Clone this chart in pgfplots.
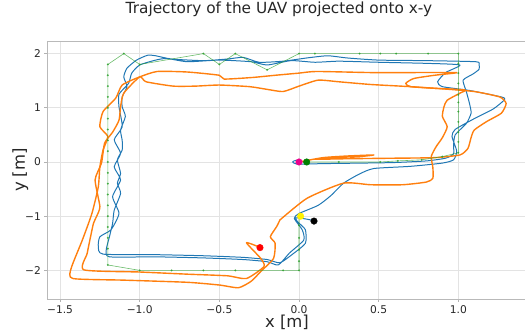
\documentclass[border=0pt]{standalone}
\usepackage{fontspec}
\setmainfont{DejaVu Sans}
\usepackage{pgfplots}
\pgfplotsset{compat=1.18}
\definecolor{mblue}{RGB}{31,119,180}
\definecolor{morange}{RGB}{255,127,14}
\definecolor{mgreen}{RGB}{44,160,44}
\definecolor{dgreen}{RGB}{0,128,0}
\begin{document}
\begin{tikzpicture}
\path[use as bounding box] (0,0) rectangle (525bp,335bp);
\begin{axis}[
  at={(47.3bp,36bp)}, anchor=south west,
  scale only axis, width=479.7bp, height=257.3bp,
  xmin=-1.580, xmax=1.431, ymin=-2.528, ymax=2.2196,
  xtick={-1.5,-1,-0.5,0,0.5,1},
  xticklabels={−1.5,−1.0,−0.5,0.0,0.5,1.0},
  ytick={-2,-1,0,1,2},
  yticklabels={−2,−1,0,1,2},
  grid=major,
  grid style={gray!22, line width=0.7pt},
  axis line style={gray!55, line width=0.8pt},
  tick align=outside, major tick length=3pt,
  tick style={gray!60, line width=0.7pt},
  xtick pos=bottom, ytick pos=left,
  ticklabel style={font=\fontsize{10.7}{12}\selectfont, text=black!85},
  title={Trajectory of the UAV projected onto x-y},
  title style={at={(axis description cs:0.483,1.0863)}, anchor=base, font=\fontsize{15.4}{18}\selectfont, text=black!85},
  xlabel={x [m]},
  xlabel style={at={(axis description cs:0.4997,-0.1095)}, anchor=base, font=\fontsize{16.5}{19}\selectfont, text=black!85},
  ylabel={y [m]},
  ylabel style={at={(axis description cs:-0.0465,0.501)}, anchor=base, rotate=0, font=\fontsize{16.5}{19}\selectfont, text=black!85},
  clip=true,
]
% blue trajectory
\addplot[mblue, line width=1pt, line join=round, no marks, smooth, tension=0.35] coordinates {
(0.04,0.0)(-0.02,0.03)(-0.04,0.0)(-0.01,-0.04)(0.15,-0.03)(0.4,-0.02)(0.6,-0.01)(0.8,0.02)(0.92,0.07)(0.97,0.15)(0.97,0.3)(0.98,0.5)(1.05,0.71)(1.08,0.9)(1.07,1.08)(1.05,1.3)(1.03,1.51)(1.09,1.62)(1.13,1.71)(1.13,1.8)(1.11,1.85)
(0.8,1.87)(0.5,1.88)(0.3,1.92)(0.18,1.96)(0.05,1.92)(-0.1,1.86)(-0.25,1.84)(-0.35,1.93)(-0.45,1.9)(-0.6,1.87)(-0.8,1.9)(-0.9,1.96)(-0.95,1.97)(-1.02,1.88)(-1.08,1.73)(-1.1,1.57)(-1.08,1.39)(-1.11,1.2)(-1.11,1.02)(-1.09,0.84)(-1.12,0.59)(-1.11,0.4)(-1.11,0.22)(-1.14,0.04)(-1.12,-0.21)(-1.14,-0.39)(-1.12,-0.58)(-1.16,-0.89)(-1.17,-1.13)(-1.19,-1.38)(-1.21,-1.62)(-1.19,-1.75)
(-0.9,-1.75)(-0.6,-1.77)(-0.35,-1.8)(-0.2,-1.84)(-0.13,-1.9)(-0.06,-1.68)(0.03,-1.44)(0.02,-1.25)(-0.03,-1.04)(0.0,-0.95)(0.12,-0.8)(0.2,-0.62)(0.28,-0.39)(0.38,-0.22)(0.47,-0.12)(0.7,-0.08)(0.9,-0.02)(0.97,0.04)(0.99,0.2)(0.96,0.47)(0.98,0.6)(1.1,0.8)(1.22,0.98)(1.29,1.15)(1.27,1.2)(1.07,1.32)(0.9,1.39)(0.87,1.48)(0.92,1.65)(1.01,1.79)
(0.8,1.82)(0.5,1.84)(0.25,1.86)(0.1,1.84)(-0.05,1.87)(-0.2,1.79)(-0.3,1.85)(-0.5,1.88)(-0.7,1.85)(-0.83,1.91)(-0.9,1.88)(-1.0,1.79)(-1.05,1.64)(-1.07,1.45)(-1.13,1.25)(-1.13,1.02)(-1.11,0.65)(-1.16,0.41)(-1.12,0.16)(-1.16,-0.09)(-1.12,-0.33)(-1.17,-0.64)(-1.13,-0.95)(-1.18,-1.25)(-1.25,-1.38)(-1.26,-1.56)(-1.23,-1.70)
(-0.9,-1.71)(-0.6,-1.73)(-0.35,-1.76)(-0.2,-1.8)(-0.12,-1.86)(-0.04,-1.7)(0.04,-1.5)(0.04,-1.25)(-0.01,-1.1)(-0.02,-1.03)(0.04,-1.05)(0.09,-1.08)
};
% orange trajectory
\addplot[morange, line width=1.4pt, line join=round, no marks, smooth, tension=0.35] coordinates {
(0.0,0.0)(0.15,0.08)(0.3,0.11)(0.47,0.13)(0.38,0.1)(0.2,0.08)(0.1,0.05)(0.3,0.06)(0.6,0.07)(0.85,0.08)(1.01,0.13)(1.06,0.25)(1.08,0.45)(1.1,0.59)(1.18,0.75)(1.27,0.9)(1.30,1.08)(1.26,1.2)(1.1,1.3)(0.9,1.35)(0.7,1.39)(0.45,1.43)(0.25,1.48)(0.12,1.51)(0.0,1.4)(-0.1,1.30)(-0.2,1.34)(-0.31,1.39)(-0.5,1.42)(-0.65,1.4)(-0.79,1.4)(-0.96,1.48)(-1.0,1.57)(-1.1,1.27)(-1.12,1.02)(-1.13,0.77)(-1.17,0.55)(-1.22,0.35)(-1.24,-0.02)(-1.28,-0.33)(-1.25,-0.82)(-1.27,-1.0)(-1.29,-1.13)(-1.31,-1.4)(-1.33,-1.69)(-1.35,-1.99)(-1.0,-2.03)(-0.7,-2.07)(-0.45,-2.1)(-0.33,-2.15)(-0.22,-1.93)(-0.24,-1.78)(-0.33,-1.49)(-0.25,-1.57)
};
\addplot[morange, line width=1.4pt, line join=round, no marks, smooth, tension=0.35] coordinates {
(-0.12,-1.07)(0.05,-0.67)(0.28,-0.39)(0.45,-0.42)(0.65,-0.42)(0.8,-0.37)(0.84,-0.3)(0.84,-0.1)(0.83,0.1)(0.86,0.28)(0.9,0.45)(0.93,0.65)(0.9,0.84)(0.91,1.02)(0.93,1.14)(1.01,1.27)(1.04,1.33)(0.85,1.36)(0.7,1.39)(0.67,1.45)(0.72,1.54)(0.85,1.6)(0.99,1.65)(0.7,1.65)(0.45,1.65)(0.11,1.67)(0.0,1.64)(-0.15,1.6)(-0.29,1.56)(-0.47,1.53)(-0.5,1.6)(-0.7,1.66)(-0.89,1.67)(-1.0,1.57)(-1.11,1.42)(-1.15,1.18)(-1.23,0.93)(-1.25,0.65)(-1.2,0.47)(-1.23,0.22)(-1.25,-0.09)(-1.26,-0.46)(-1.3,-0.95)(-1.36,-1.44)(-1.43,-1.96)(-1.42,-2.15)(-1.1,-2.18)(-0.7,-2.22)(-0.5,-2.27)(-0.38,-2.32)(-0.3,-2.2)(-0.24,-2.02)(-0.16,-1.78)(-0.15,-1.5)(-0.18,-1.38)(-0.14,-1.19)(-0.12,-1.07)
};
% reference path
\addplot[mgreen, opacity=0.7, line width=0.6pt, mark=*, mark size=0.7pt] coordinates {
(0.04,0.0)(0.25,0.0)(0.51,0.0)(0.62,0.02)(0.77,0.04)(0.9,0.1)(1.0,0.17)(1.0,0.37)(1.0,0.55)(1.0,0.74)(1.0,0.93)(1.0,1.1)(1.0,1.24)(1.0,1.45)(1.0,1.64)(1.0,1.82)(1.0,2.0)(0.81,2.0)(0.61,2.0)(0.51,2.0)(0.38,2.0)(0.1,2.0)(0.0,2.0)(-0.2,1.7)(-0.4,2.0)(-0.5,1.8)(-0.6,2.0)(-1.0,1.8)(-1.1,2.0)(-1.2,1.8)(-1.2,1.6)(-1.2,1.4)(-1.2,1.2)(-1.2,1.0)(-1.2,0.8)(-1.2,0.6)(-1.2,0.4)(-1.2,0.2)(-1.2,0.0)(-1.2,-0.2)(-1.2,-0.4)(-1.2,-0.6)(-1.2,-0.8)(-1.2,-1.0)(-1.2,-1.2)(-1.2,-1.4)(-1.2,-1.6)(-1.2,-1.9)(-1.0,-2.0)(-0.8,-2.0)(-0.6,-2.0)(-0.4,-2.0)(-0.1,-2.0)(0.0,-2.0)(0.0,-1.83)(0.0,-1.62)(0.0,-1.4)(0.0,-1.17)(0.0,-1.0)
};
% start / end markers
\addplot[only marks, mark=*, mark size=3.3pt, color=magenta] coordinates {(0.0,0.0)};
\addplot[only marks, mark=*, mark size=3.3pt, color=dgreen] coordinates {(0.048,0.0)};
\addplot[only marks, mark=*, mark size=3.3pt, color=yellow] coordinates {(0.01,-1.0)};
\addplot[only marks, mark=*, mark size=3.3pt, color=black] coordinates {(0.094,-1.09)};
\addplot[only marks, mark=*, mark size=3.3pt, color=red] coordinates {(-0.245,-1.58)};
\end{axis}
\end{tikzpicture}
\end{document}
